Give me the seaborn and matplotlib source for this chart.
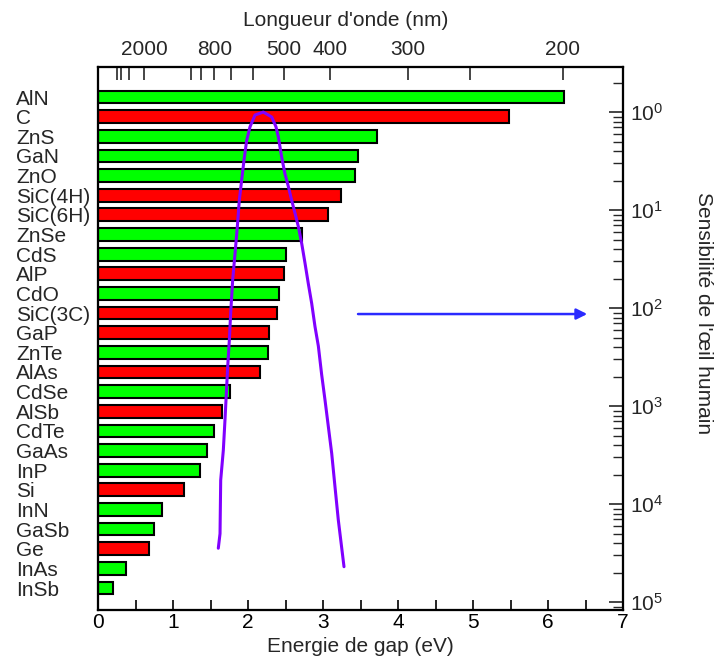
import numpy as np
import pandas as pd
import seaborn as sns
import matplotlib
matplotlib.use('Agg')
import matplotlib.pyplot as plt
from matplotlib.ticker import LogLocator, NullFormatter

# Band gaps (eV), top to bottom
materials = ['AlN', 'C', 'ZnS', 'GaN', 'ZnO', 'SiC(4H)', 'SiC(6H)', 'ZnSe', 'CdS', 'AlP',
             'CdO', 'SiC(3C)', 'GaP', 'ZnTe', 'AlAs', 'CdSe', 'AlSb', 'CdTe', 'GaAs', 'InP',
             'Si', 'InN', 'GaSb', 'Ge', 'InAs', 'InSb']
gaps = [6.21, 5.48, 3.72, 3.46, 3.43, 3.24, 3.06, 2.72, 2.50, 2.48,
        2.41, 2.38, 2.28, 2.27, 2.16, 1.76, 1.65, 1.54, 1.45, 1.36,
        1.14, 0.85, 0.74, 0.68, 0.37, 0.20]
gap_type = ['direct', 'indirect', 'direct', 'direct', 'direct', 'indirect', 'indirect', 'direct', 'direct', 'indirect',
            'direct', 'indirect', 'indirect', 'direct', 'indirect', 'direct', 'indirect', 'direct', 'direct', 'direct',
            'indirect', 'direct', 'direct', 'indirect', 'direct', 'direct']

# Eye sensitivity curve (energy in eV, relative sensitivity)
eye_energy = [1.604, 1.627, 1.636, 1.671, 1.693, 1.729, 1.751, 1.769, 1.796, 1.827,
              1.858, 1.884, 1.916, 1.947, 1.982, 2.027, 2.093, 2.204, 2.316, 2.373,
              2.404, 2.449, 2.493, 2.538, 2.582, 2.627, 2.671, 2.716, 2.760, 2.804,
              2.849, 2.893, 2.938, 2.982, 3.027, 3.071, 3.116, 3.160, 3.204, 3.249, 3.280]
eye_sens = [3.55e-5, 5.0e-5, 1.76e-4, 3.55e-4, 7.2e-4, 2.5e-3, 4.7e-3, 8.9e-3, 0.0195, 0.036,
            0.068, 0.126, 0.204, 0.324, 0.513, 0.708, 0.933, 1.0, 0.891, 0.708,
            0.562, 0.347, 0.234, 0.174, 0.126, 0.093, 0.068, 0.0457, 0.0288, 0.0178,
            0.0112, 6.5e-3, 4.1e-3, 2.1e-3, 1.15e-3, 6.2e-4, 3.3e-4, 1.5e-4, 6.9e-5, 3.6e-5, 2.3e-5]

# Blue arrow towards the right axis
arrow_x = [3.43, 6.56]
arrow_y = 8.7e-3

# Wavelength axis (nm)
wl_major = [2000, 800, 500, 400, 300, 200]
wl_minor = [5000, 4000, 3000, 1000, 900, 700, 600, 250]

sens_ticks = [1, 1e-1, 1e-2, 1e-3, 1e-4, 1e-5]
sens_labels = ['$\\mathdefault{10^{0}}$', '$\\mathdefault{10^{1}}$', '$\\mathdefault{10^{2}}$',
               '$\\mathdefault{10^{3}}$', '$\\mathdefault{10^{4}}$', '$\\mathdefault{10^{5}}$']

sns.set_style('white')
plt.rcParams['font.family'] = ['Liberation Sans', 'DejaVu Sans']
plt.rcParams['mathtext.fontset'] = 'custom'
plt.rcParams['mathtext.rm'] = 'Liberation Sans'
plt.rcParams['axes.edgecolor'] = 'black'
plt.rcParams['axes.linewidth'] = 1.5

df = pd.DataFrame({'mat': materials, 'gap': gaps, 'type': gap_type})

fig = plt.figure(figsize=(7.14, 6.71), dpi=100)
ax = fig.add_axes([98 / 714, 1 - 610 / 671, 525 / 714, 543 / 671])

sns.barplot(data=df, x='gap', y='mat', hue='type', order=materials,
            palette={'direct': '#00ff00', 'indirect': '#ff0000'}, saturation=1,
            dodge=False, width=0.65, edgecolor='black', linewidth=1.5,
            legend=False, ax=ax)
ax.set_xlim(0, 7)
ax.set_ylim(26.12, -1.53)
ax.set_xlabel('Energie de gap (eV)', fontsize=15, labelpad=4)
ax.set_ylabel('')
ax.set_xticks(range(0, 8))
ax.set_xticks(np.arange(0.5, 7, 1), minor=True)
ax.tick_params(axis='x', which='both', direction='in', length=7, width=1.2,
               labelsize=15, pad=2, bottom=True, top=False, colors='black')
ax.tick_params(axis='y', length=0, labelsize=15, pad=59)
for lab in ax.get_yticklabels():
    lab.set_ha('left')

# wavelength scale on top
ax_top = ax.twiny()
ax_top.set_xlim(0, 7)
ax_top.set_xticks([1239.84 / w for w in wl_major])
ax_top.set_xticklabels([str(w) for w in wl_major])
ax_top.set_xticks([1239.84 / w for w in wl_minor], minor=True)
ax_top.tick_params(axis='x', which='both', direction='in', length=9, width=1.2,
                   labelsize=15, pad=6, top=True, bottom=False)
fig.text(346 / 714, 1 - 20 / 671, "Longueur d'onde (nm)", fontsize=15,
         ha='center', va='center')

# eye sensitivity on the right
ax_r = ax.twinx()
sns.lineplot(x=eye_energy, y=eye_sens, color='#8000ff', lw=2.2, sort=False, ax=ax_r)
ax_r.set_yscale('log')
ax_r.set_ylim(10 ** -5.08, 10 ** 0.46)
ax_r.set_yticks(sens_ticks)
ax_r.set_yticklabels(sens_labels)
ax_r.yaxis.set_minor_locator(LogLocator(base=10, subs=np.arange(2, 10), numticks=20))
ax_r.yaxis.set_minor_formatter(NullFormatter())
ax_r.tick_params(axis='y', which='major', direction='in', length=10, width=1.2,
                 labelsize=15, pad=5, right=True, left=False)
ax_r.tick_params(axis='y', which='minor', direction='in', length=7, width=1.0,
                 right=True, left=False)
ax_r.annotate('', xy=(arrow_x[1], arrow_y), xytext=(arrow_x[0], arrow_y),
              arrowprops=dict(arrowstyle='-|>', color='#2a2aff', lw=1.8, mutation_scale=16))
fig.text(703 / 714, 1 - 313 / 671, "Sensibilité de l'œil humain", fontsize=15,
         rotation=-90, ha='center', va='center')

fig.savefig('out.png', dpi=100)
